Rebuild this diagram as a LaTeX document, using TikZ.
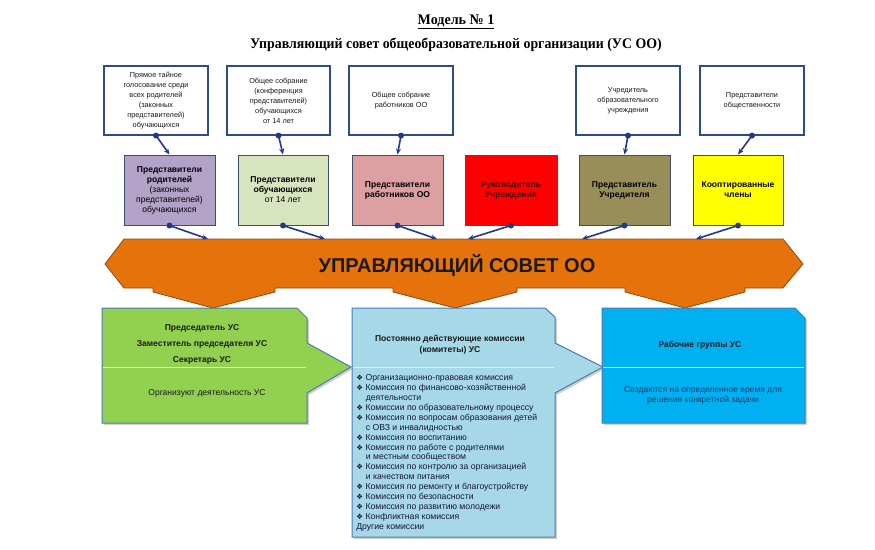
\documentclass[tikz,border=0pt]{standalone}
\usepackage{fontspec}
\setmainfont{Liberation Sans}
\newfontfamily\serifb{Liberation Serif}
\newfontfamily\dejavu{DejaVu Sans}
\usetikzlibrary{arrows.meta,calc}
\def\PX{0.75pt}
\definecolor{navy}{HTML}{22398A}
\definecolor{topborder}{HTML}{2E4C8C}
\definecolor{cborder}{HTML}{3E4E6E}
\definecolor{cpurple}{HTML}{B3A2C7}
\definecolor{clgreen}{HTML}{D7E4BD}
\definecolor{cpink}{HTML}{DDA0A0}
\definecolor{cred}{HTML}{FF0000}
\definecolor{colive}{HTML}{998E5A}
\definecolor{cyellow}{HTML}{FFFF00}
\definecolor{corange}{HTML}{E6720C}
\definecolor{oborder}{HTML}{8A4A12}
\definecolor{bgreen}{HTML}{92D050}
\definecolor{blblue}{HTML}{A6D8E7}
\definecolor{bblue}{HTML}{00B0F0}
\definecolor{bborder}{HTML}{4A7AB5}
\definecolor{txt}{HTML}{1A1A1A}
\definecolor{bluetxt}{HTML}{16386B}
\tikzset{
  topbox/.style={draw=topborder, line width=1.1*\PX, fill=white, minimum width=104*\PX, minimum height=69*\PX, align=center, inner sep=0pt, text=txt, font=\fontsize{5.5}{7.5}\selectfont},
  colbox/.style={draw=cborder, line width=1*\PX, minimum width=91*\PX, minimum height=70*\PX, align=center, inner sep=0pt, text=black, font=\fontsize{6.4}{7.5}\selectfont},
  conn/.style={draw=navy, line width=1.6*\PX, -{Stealth[length=6*\PX,width=5*\PX]}},
  dotc/.style={fill=navy},
  lowbox/.style={draw=bborder, line width=1*\PX},
  lowshadow/.style={fill=black!30, opacity=0.6},
  sepline/.style={draw=white!85!gray, line width=1*\PX},
}
\begin{document}
\begin{tikzpicture}[x=0.75pt,y=-0.75pt]
\useasboundingbox (0,0) rectangle (875,550);

% titles
\node[font=\serifb\bfseries\fontsize{11}{13}\selectfont, inner sep=0pt, xscale=0.96] (title) at (456,22) {\underline{Модель № 1}};
\node[font=\serifb\bfseries\fontsize{11}{13}\selectfont, inner sep=0pt, xscale=0.945] (subtitle) at (456,45) {Управляющий совет общеобразовательной организации (УС ОО)};

% top boxes
\node[topbox] (t1) at (156,100.5) {Прямое тайное\\голосование среди\\всех родителей\\(законных\\представителей)\\обучающихся};
\node[topbox, minimum width=103*\PX] (t2) at (278.5,100.5) {Общее собрание\\(конференция\\представителей)\\обучающихся\\от 14 лет};
\node[topbox] (t3) at (401,100.5) {Общее собрание\\работников ОО};
\node[topbox] (t4) at (628,100.5) {Учредитель\\образовательного\\учреждения};
\node[topbox] (t5) at (752,100.5) {Представители\\общественности};

% colored boxes
\node[colbox, fill=cpurple] (c1) at (169.5,190) {\textbf{Представители}\\\textbf{родителей}\\(законных\\представителей)\\обучающихся};
\node[colbox, fill=clgreen, minimum width=90*\PX] (c2) at (283,190) {\textbf{Представители}\\\textbf{обучающихся}\\от 14 лет};
\node[colbox, fill=cpink] (c3) at (397.5,190) {\textbf{Представители}\\\textbf{работников ОО}};
\node[colbox, fill=cred, minimum width=92*\PX, text=black!75!red] (c4) at (511,190) {\textbf{Руководитель}\\\textbf{Учреждения}};
\node[colbox, fill=colive] (c5) at (624.5,190) {\textbf{Представитель}\\\textbf{Учредителя}};
\node[colbox, fill=cyellow, minimum width=90*\PX] (c6) at (738,190) {\textbf{Кооптированные}\\\textbf{члены}};

% arrows top -> colored
\foreach \a/\b in {t1/c1,t2/c2,t3/c3,t4/c5,t5/c6}{
  \draw[conn] (\a.south) -- (\b.north);
  \fill[dotc] (\a.south) circle (3);
}

% banner
\draw[fill=corange, draw=oborder, line width=0.8*\PX]
  (105,264) -- (124,239) -- (783,239) -- (803,264) -- (783,288)
  -- (745,288) -- (745,292) -- (685,308) -- (625,292) -- (625,288)
  -- (517,288) -- (517,292) -- (455,308) -- (393,292) -- (393,288)
  -- (275,288) -- (275,292) -- (213,308) -- (153,292) -- (153,288)
  -- (124,288) -- cycle;
\node[font=\bfseries\fontsize{15}{18}\selectfont, text=txt, inner sep=0pt] (usoo) at (457,265) {УПРАВЛЯЮЩИЙ СОВЕТ ОО};

\coordinate (b1) at (208,239);
\coordinate (b2) at (325,239);
\coordinate (b3) at (437,239);
\coordinate (b4) at (468,239);
\coordinate (b5) at (582,239);
\coordinate (b6) at (696,239);
\foreach \a/\b in {c1/b1,c2/b2,c3/b3,c4/b4,c5/b5,c6/b6}{
  \draw[conn] (\a.south) -- (\b);
  \fill[dotc] (\a.south) circle (3);
}

% lower boxes: shadows
\fill[lowshadow] (104,310) -- (299,310) -- (309,320) -- (309,345) -- (353,369) -- (309,395) -- (309,425) -- (104,425) -- cycle;
\fill[lowshadow] (354,310) -- (547,310) -- (557,319) -- (557,345) -- (605,369) -- (557,395) -- (557,539) -- (354,539) -- cycle;
\fill[lowshadow] (604,310) -- (797,310) -- (807,320) -- (807,425) -- (604,425) -- cycle;

% green box
\draw[lowbox, fill=bgreen] (102,308) -- (297,308) -- (307,318) -- (307,343) -- (351,367) -- (307,393) -- (307,423) -- (102,423) -- cycle;
\draw[sepline] (103,367) -- (306,367);
% blue box
\draw[lowbox, fill=bblue] (602,308) -- (795,308) -- (805,318) -- (805,423) -- (602,423) -- cycle;
\draw[sepline] (603,367) -- (804,367);
% light blue box
\draw[lowbox, fill=blblue] (352,308) -- (545,308) -- (555,317) -- (555,343) -- (603,367) -- (555,393) -- (555,537) -- (352,537) -- cycle;
\draw[sepline] (353,367) -- (554,367);

% texts lower boxes
\node[font=\bfseries\fontsize{6.4}{12}\selectfont, align=center, text=txt, inner sep=0pt] (pred) at (202,344) {Председатель УС\\Заместитель председателя УС\\Секретарь УС};
\node[font=\fontsize{6.4}{8}\selectfont, text=txt, inner sep=0pt] (org) at (207,393) {Организуют деятельность УС};

\node[font=\bfseries\fontsize{6.4}{8.25}\selectfont, align=center, text=txt, inner sep=0pt] (kom) at (450,344.5) {Постоянно действующие комиссии\\(комитеты) УС};

\newcommand\bul{\makebox[7pt][l]{\dejavu\fontsize{5.6}{5}\selectfont ❖}}
\newcommand\ind{\hspace*{7.2pt}}
\node[font=\fontsize{6.5}{7.42}\selectfont, align=left, text=txt!85!blue, inner sep=0pt, anchor=north west] (list) at (356,374.5) {%
\bul Организационно-правовая комиссия\\
\bul Комиссия по финансово-хозяйственной\\
\ind деятельности\\
\bul Комиссии по образовательному процессу\\
\bul Комиссия по вопросам образования детей\\
\ind с ОВЗ и инвалидностью\\
\bul Комиссия по воспитанию\\
\bul Комиссия по работе с родителями\\
\ind и местным сообществом\\
\bul Комиссия по контролю за организацией\\
\ind и качеством питания\\
\bul Комиссия по ремонту и благоустройству\\
\bul Комиссия по безопасности\\
\bul Комиссия по развитию молодежи\\
\bul Конфликтная комиссия\\
Другие комиссии};

\node[font=\bfseries\fontsize{6.4}{8}\selectfont, text=txt, inner sep=0pt] (rg) at (700,345) {Рабочие группы УС};
\node[font=\fontsize{6.4}{7}\selectfont, align=center, text=bluetxt, inner sep=0pt] (rgt) at (703,395.5) {Создаются на определенное время для\\решения конкретной задачи};
\end{tikzpicture}
\end{document}
